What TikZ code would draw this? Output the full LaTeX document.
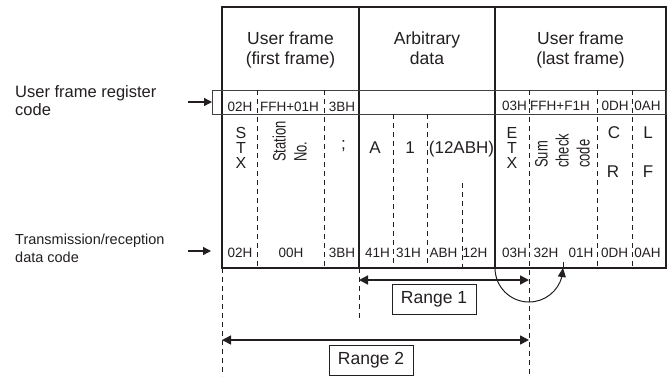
\documentclass[tikz,border=0pt]{standalone}
\usepackage{fontspec}
\setmainfont{Liberation Sans}
\newfontfamily\narrowsf[FakeStretch=0.72]{Liberation Sans}
\usetikzlibrary{arrows.meta,bending}
\definecolor{ink}{HTML}{231F20}
\begin{document}
\begin{tikzpicture}[x=1pt,y=1pt,
  thickln/.style={line width=1.6pt,draw=ink},
  thinln/.style={line width=0.9pt,draw=ink},
  dashln/.style={line width=0.9pt,draw=ink,dash pattern=on 5pt off 4pt},
  hdrtxt/.style={font=\fontsize{17.5}{20.5}\selectfont,align=center,inner sep=0,anchor=north,text=ink},
  smalltxt/.style={font=\fontsize{13.5}{15}\selectfont,inner sep=0,anchor=base,text=ink},
  bigtxt/.style={font=\fontsize{17}{15}\selectfont,inner sep=0,anchor=base,text=ink},
  stacktxt/.style={font=\fontsize{16}{15}\selectfont,inner sep=0,anchor=base,text=ink},
  rottxt/.style={font=\narrowsf\fontsize{18}{21}\selectfont,rotate=90,anchor=south west,align=left,inner sep=0,text=ink},
  lbltxt/.style={align=left,inner sep=0,anchor=north west,text=ink},
  rangebox/.style={draw=ink,line width=0.9pt,minimum width=84pt,minimum height=30pt,inner sep=0,font=\fontsize{17.5}{20}\selectfont,text=ink},
  bigtip/.style={line width=1.5pt,draw=ink,{Triangle[length=9pt,width=9pt]}-{Triangle[length=9pt,width=9pt]}},
  sidearrow/.style={line width=1.3pt,draw=ink,-{Triangle[length=8pt,width=8pt]}},
]
\useasboundingbox (0,0) rectangle (668,-376);

% frame
\draw[thickln] (222,-7) rectangle (666,-268);
\draw[thickln] (359,-7) -- (359,-268);
\draw[thickln] (495,-7) -- (495,-268);
% register row
\draw[thinln,draw=ink!85] (212,-90) rectangle (666,-114);

% dashed dividers
\draw[dashln] (257,-90) -- (257,-268);
\draw[dashln] (324,-90) -- (324,-268);
\draw[dashln] (393,-114) -- (393,-268);
\draw[dashln] (427,-114) -- (427,-268);
\draw[dashln] (462,-183) -- (462,-268);
\draw[dashln] (529,-90) -- (529,-376);
\draw[dashln] (597,-90) -- (597,-268);
\draw[dashln] (632,-90) -- (632,-268);
\draw[dashln] (222,-268) -- (222,-376);
\draw[dashln] (359,-268) -- (359,-320);
\draw[thinln] (563,-262) -- (563,-268);

% headers
\node[hdrtxt] (h1) at (290.5,-31.5) {User frame\\(first frame)};
\node[hdrtxt] (h2) at (427,-31.5) {Arbitrary\\data};
\node[hdrtxt] (h3) at (580.5,-31.5) {User frame\\(last frame)};

% register row texts
\node[smalltxt] (r1) at (240,-111) {02H};
\node[smalltxt] (r2) at (289.5,-111) {FFH+01H};
\node[smalltxt] (r3) at (342,-111) {3BH};
\node[smalltxt] (r4) at (514.5,-110) {03H};
\node[smalltxt] (r5) at (560,-110) {FFH+F1H};
\node[smalltxt] (r6) at (615,-110) {0DH};
\node[smalltxt] (r7) at (647.5,-110) {0AH};

% data area
\node[stacktxt] (sS) at (241,-138.5) {S};
\node[stacktxt] (sT) at (241,-153.5) {T};
\node[stacktxt] (sX) at (241,-168) {X};
\node[rottxt] (stn) at (307,-162) {Station\\No.};
\node[bigtxt] (semi) at (343.5,-149) {;};
\node[bigtxt] (da) at (375,-153) {A};
\node[bigtxt] (d1) at (410,-153) {1};
\node[bigtxt] (dabh) at (461.5,-153) {(12ABH)};
\node[stacktxt] (eE) at (512,-138.5) {E};
\node[stacktxt] (eT) at (512,-153.5) {T};
\node[stacktxt] (eX) at (512,-168) {X};
\node[rottxt] (sum) at (590,-168) {Sum\\check\\code};
\node[bigtxt] (cc) at (614,-138) {C};
\node[bigtxt] (cr) at (613,-177) {R};
\node[bigtxt] (cl) at (648,-138) {L};
\node[bigtxt] (cf) at (648,-177) {F};

% data code row
\node[smalltxt] (b1) at (240,-257) {02H};
\node[smalltxt] (b2) at (291,-257) {00H};
\node[smalltxt] (b3) at (342,-257) {3BH};
\node[smalltxt] (b4) at (377.5,-257) {41H};
\node[smalltxt] (b5) at (408.5,-257) {31H};
\node[smalltxt] (b6) at (443.5,-257) {ABH};
\node[smalltxt] (b7) at (475,-257) {12H};
\node[smalltxt] (b8) at (514.5,-257) {03H};
\node[smalltxt] (b9) at (546,-257) {32H};
\node[smalltxt] (b10) at (581,-257) {01H};
\node[smalltxt] (b11) at (614.5,-257) {0DH};
\node[smalltxt] (b12) at (647.5,-257) {0AH};

% left labels
\node[lbltxt,font=\fontsize{16.5}{18}\selectfont] (lab1) at (15,-85.5) {User frame register\\code};
\node[lbltxt,font=\fontsize{14.5}{18}\selectfont] (lab2) at (15,-233.5) {Transmission/reception\\data code};
\coordinate (a1s) at (188,-102);
\coordinate (a1e) at (212,-102);
\coordinate (a2s) at (188,-251);
\coordinate (a2e) at (211,-251);
\draw[sidearrow] (a1s) -- (a1e);
\draw[sidearrow] (a2s) -- (a2e);

% ranges
\coordinate (r1l) at (359,-280);
\coordinate (r1r) at (529,-280);
\coordinate (r2l) at (222,-340);
\coordinate (r2r) at (529,-340);
\draw[bigtip] (r1l) -- (r1r);
\draw[bigtip] (r2l) -- (r2r);
\node[rangebox] (rg1) at (434,-299) {Range 1};
\node[rangebox] (rg2) at (371,-360.5) {Range 2};

% checksum range curve
\coordinate (cs) at (495,-268);
\draw[line width=1pt,draw=ink,-{Triangle[length=9pt,width=8pt,flex]}] (cs) arc[start angle=180,end angle=360,radius=34];
\end{tikzpicture}
\end{document}
